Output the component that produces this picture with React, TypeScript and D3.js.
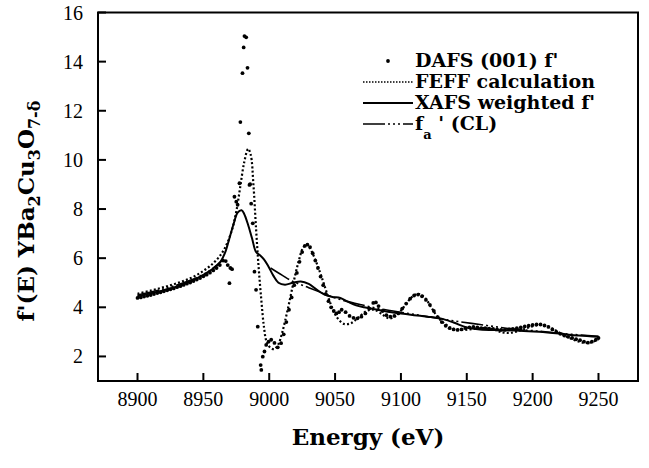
import React from 'react'
import * as d3 from 'd3'

// energy (eV), f'
const dafs: [number, number][] = [
  [8900, 4.38], [8902.5, 4.4], [8905, 4.44], [8907.5, 4.47], [8910, 4.5], [8912.5, 4.54],
  [8915, 4.58], [8917.5, 4.61], [8920, 4.65], [8922.5, 4.69], [8925, 4.73], [8927.5, 4.77],
  [8930, 4.82], [8932.5, 4.86], [8935, 4.91], [8937.5, 4.96], [8940, 5.01], [8942.5, 5.07],
  [8945, 5.13], [8947.5, 5.19], [8950, 5.26], [8952.5, 5.33], [8955, 5.41], [8957.5, 5.5],
  [8960, 5.6], [8962.5, 5.72], [8965, 5.9], [8967, 5.88], [8968.5, 5.72], [8969.8, 4.98],
  [8970.5, 5.6], [8971.8, 5.55], [8973.6, 8.5], [8975, 8.3], [8976, 8.17], [8977.4, 9.05],
  [8978.1, 11.54], [8979.7, 13.53], [8980.6, 14.58], [8981.2, 15.04], [8982.5, 14.99],
  [8983.5, 13.75], [8984.5, 11.08], [8985, 8.98], [8985.5, 9.01], [8986.3, 8.22],
  [8987.5, 7.42], [8988.8, 5.45], [8990, 4.71], [8991.3, 3.21], [8993.5, 1.65], [8994, 1.45],
  [8995.1, 1.99], [8996.4, 2.2], [8997.7, 2.47], [8999.5, 2.6], [9001.5, 2.68], [9004, 2.55],
  [9006.5, 2.37], [9009, 2.54], [9011, 2.9], [9013, 3.4], [9015, 3.9], [9017, 4.4],
  [9019, 4.9], [9021, 5.4], [9023, 5.85], [9025, 6.25], [9027, 6.5], [9029, 6.55],
  [9031, 6.45], [9033, 6.2], [9035, 5.9], [9037, 5.6], [9039, 5.25], [9041, 4.9],
  [9043, 4.55], [9045, 4.25], [9047, 4.0], [9049, 3.85], [9051, 3.75], [9053, 3.8],
  [9055, 3.9], [9058, 3.8], [9061, 3.65], [9064, 3.57], [9067, 3.55], [9070, 3.62],
  [9073, 3.75], [9076, 3.95], [9079, 4.18], [9081, 4.2], [9083, 4.05], [9086, 3.85],
  [9089, 3.68], [9092, 3.62], [9095, 3.65], [9098, 3.75], [9101, 3.95], [9104, 4.15],
  [9107, 4.35], [9110, 4.48], [9113, 4.52], [9116, 4.45], [9119, 4.3], [9122, 4.1],
  [9125, 3.85], [9128, 3.6], [9131, 3.4], [9134, 3.25], [9137, 3.15], [9140, 3.1],
  [9143, 3.08], [9146, 3.1], [9149, 3.15], [9152, 3.18], [9155, 3.2], [9158, 3.18],
  [9161, 3.15], [9164, 3.15], [9167, 3.13], [9170, 3.12], [9173, 3.1], [9176, 3.08],
  [9179, 3.08], [9182, 3.1], [9185, 3.12], [9188, 3.15], [9191, 3.18], [9194, 3.22],
  [9197, 3.25], [9200, 3.28], [9203, 3.3], [9206, 3.3], [9209, 3.26], [9212, 3.2],
  [9215, 3.1], [9218, 3.0], [9221, 2.92], [9224, 2.85], [9227, 2.8], [9230, 2.75],
  [9233, 2.7], [9236, 2.66], [9239, 2.6], [9242, 2.56], [9245, 2.6], [9248, 2.68], [9250, 2.75],
]

const feff: [number, number][] = [
  [8900, 4.55], [8910, 4.68], [8920, 4.82], [8930, 4.98], [8940, 5.18], [8950, 5.48],
  [8958, 5.82], [8964, 6.2], [8968, 6.6], [8972, 7.2], [8975, 7.9], [8978, 8.9],
  [8981, 9.9], [8984, 10.45], [8986, 10.2], [8988, 9.0], [8990, 7.2], [8992, 5.6],
  [8994, 4.3], [8996, 3.2], [8998, 2.6], [9001, 2.35], [9004, 2.3], [9007, 2.5],
  [9010, 3.0], [9014, 3.9], [9018, 4.9], [9022, 5.8], [9026, 6.45], [9029, 6.55],
  [9032, 6.3], [9036, 5.8], [9040, 5.2], [9044, 4.55], [9048, 3.95], [9052, 3.55],
  [9057, 3.32], [9062, 3.35], [9068, 3.6], [9074, 3.85], [9080, 3.9], [9086, 3.7],
  [9091, 3.55], [9096, 3.65], [9102, 4.0], [9108, 4.4], [9113, 4.55], [9118, 4.4],
  [9123, 4.0], [9128, 3.6], [9134, 3.3], [9140, 3.12], [9147, 3.08], [9155, 3.12],
  [9163, 3.15], [9170, 3.1], [9177, 2.98], [9183, 2.96], [9190, 3.05], [9197, 3.18],
  [9204, 3.28], [9210, 3.25], [9216, 3.1], [9222, 2.92], [9228, 2.75], [9234, 2.62],
  [9240, 2.55], [9245, 2.58], [9250, 2.7],
]

const xafs: [number, number][] = [
  [8900, 4.45], [8910, 4.57], [8920, 4.7], [8930, 4.85], [8940, 5.05], [8950, 5.32],
  [8958, 5.6], [8963, 5.85], [8967, 6.3], [8970, 6.85], [8973, 7.4], [8976, 7.85],
  [8979, 7.95], [8981, 7.8], [8984, 7.35], [8987, 6.8], [8990, 6.25], [8993, 6.12],
  [8996, 5.95], [8999, 5.7], [9003, 5.3], [9007, 5.0], [9012, 4.92], [9018, 5.0],
  [9024, 5.05], [9030, 4.95], [9036, 4.72], [9042, 4.52], [9048, 4.42], [9054, 4.38],
  [9060, 4.22], [9066, 4.08], [9072, 4.0], [9080, 3.92], [9090, 3.82], [9100, 3.75],
  [9110, 3.68], [9120, 3.62], [9130, 3.55], [9140, 3.38], [9150, 3.18], [9160, 3.1],
  [9175, 3.07], [9190, 3.05], [9205, 3.0], [9220, 2.93], [9235, 2.85], [9250, 2.8],
]

// null = gap at the edge
const clFa: [number, number | null][] = [
  [8900, 4.5], [8920, 4.75], [8940, 5.1], [8955, 5.5], [8965, 5.95], [8983, null],
  [9001, 5.6], [9010, 5.3], [9018, 5.05], [9030, 4.8], [9043, 4.52], [9055, 4.3],
  [9070, 4.1], [9085, 3.93], [9100, 3.8], [9120, 3.62], [9140, 3.45], [9160, 3.3],
  [9180, 3.15], [9200, 3.05], [9225, 2.92], [9250, 2.82],
]

const xTicks = [8900, 8950, 9000, 9050, 9100, 9150, 9200, 9250]
const yTicks = [2, 4, 6, 8, 10, 12, 14, 16]

const W = 649
const H = 468
const left = 98
const right = 638
const top = 12.5
const bottom = 381

const serif = '"Liberation Serif", serif'
const boldSerif = '"DejaVu Serif", serif'
const dotDash = '22,3,2,3,2,3,2,3'

export default function App() {
  const x = d3.scaleLinear().domain([8870, 9280]).range([left, right])
  const y = d3.scaleLinear().domain([1, 16]).range([bottom, top])

  const line = d3
    .line<[number, number]>()
    .x((d) => x(d[0]))
    .y((d) => y(d[1]))
    .curve(d3.curveCatmullRom)

  const clLine = d3
    .line<[number, number | null]>()
    .defined((d) => d[1] !== null)
    .x((d) => x(d[0]))
    .y((d) => y(d[1] as number))
    .curve(d3.curveCatmullRom)

  const lx = 363
  const tx = 415
  const rows = [67, 88, 109, 130]

  return (
    <svg
      width={W}
      height={H}
      style={{ position: 'absolute', left: 0, top: 0, background: '#fff' }}
    >
      <rect x={0} y={0} width={W} height={H} fill="#fff" />

      {/* data */}
      <path d={line(xafs) ?? ''} fill="none" stroke="#000" strokeWidth={2} />
      <path
        d={clLine(clFa) ?? ''}
        fill="none"
        stroke="#000"
        strokeWidth={1.6}
        strokeDasharray={dotDash}
      />
      <path
        d={line(feff) ?? ''}
        fill="none"
        stroke="#000"
        strokeWidth={2.2}
        strokeDasharray="2,2.2"
      />
      {dafs.map((d, i) => (
        <circle key={i} cx={x(d[0])} cy={y(d[1])} r={1.9} fill="#000" />
      ))}

      {/* frame + ticks */}
      <rect
        x={left}
        y={top}
        width={right - left}
        height={bottom - top}
        fill="none"
        stroke="#000"
        strokeWidth={2}
      />
      {xTicks.map((t) => (
        <g key={t}>
          <line x1={x(t)} x2={x(t)} y1={bottom} y2={bottom - 8} stroke="#000" strokeWidth={2} />
          <text
            x={x(t)}
            y={406}
            textAnchor="middle"
            fontFamily={serif}
            fontSize={20}
          >
            {t}
          </text>
        </g>
      ))}
      {yTicks.map((t) => (
        <g key={t}>
          <line x1={left} x2={left + 8} y1={y(t)} y2={y(t)} stroke="#000" strokeWidth={2} />
          <text
            x={83}
            y={y(t) + 7}
            textAnchor="end"
            fontFamily={serif}
            fontSize={20}
          >
            {t}
          </text>
        </g>
      ))}

      {/* axis titles */}
      <text
        x={(left + right) / 2}
        y={445}
        textAnchor="middle"
        fontFamily={boldSerif}
        fontWeight="bold"
        fontSize={23}
      >
        Energy (eV)
      </text>
      <text
        transform="translate(34,211) rotate(-90)"
        textAnchor="middle"
        fontFamily={boldSerif}
        fontWeight="bold"
        fontSize={23}
      >
        f'(E) YBa
        <tspan dy={6} fontSize={16}>2</tspan>
        <tspan dy={-6}>Cu</tspan>
        <tspan dy={6} fontSize={16}>3</tspan>
        <tspan dy={-6}>O</tspan>
        <tspan dy={6} fontSize={16}>7-δ</tspan>
      </text>

      {/* legend */}
      <g fontFamily={boldSerif} fontWeight="bold" fontSize={19}>
        <circle cx={388} cy={rows[0] - 6} r={1.9} fill="#000" />
        <text x={tx} y={rows[0]}>DAFS (001) f'</text>

        <line x1={lx} x2={tx - 2} y1={rows[1] - 6} y2={rows[1] - 6} stroke="#000" strokeWidth={1.5} strokeDasharray="1.5,1.5" />
        <text x={tx} y={rows[1]}>FEFF calculation</text>

        <line x1={lx} x2={tx - 2} y1={rows[2] - 6} y2={rows[2] - 6} stroke="#000" strokeWidth={2} />
        <text x={tx} y={rows[2]}>XAFS weighted f'</text>

        <line x1={lx} x2={tx - 2} y1={rows[3] - 6} y2={rows[3] - 6} stroke="#000" strokeWidth={1.6} strokeDasharray={dotDash} />
        <text x={tx} y={rows[3]}>
          f<tspan dy={9} fontSize={13}>a</tspan>
          <tspan dy={-9}> ' (CL)</tspan>
        </text>
      </g>
    </svg>
  )
}
